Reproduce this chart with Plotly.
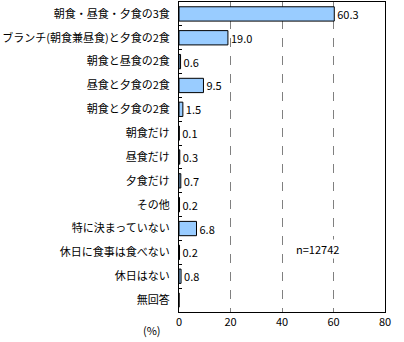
import plotly.graph_objects as go

categories = ["朝食・昼食・夕食の3食", "ブランチ(朝食兼昼食)と夕食の2食", "朝食と昼食の2食",
              "昼食と夕食の2食", "朝食と夕食の2食", "朝食だけ", "昼食だけ", "夕食だけ",
              "その他", "特に決まっていない", "休日に食事は食べない", "休日はない", "無回答"]
values = [60.3, 19.0, 0.6, 9.5, 1.5, 0.1, 0.3, 0.7, 0.2, 6.8, 0.2, 0.8, 0.0]
x_ticks = [0, 20, 40, 60, 80]
sample_note = "n=12742"
unit_label = "(%)"

labels = ["" if v == 0 else f"{v:.1f}" for v in values]
FONT = "Noto Sans CJK JP"

fig = go.Figure(go.Bar(
    x=values, y=categories, orientation="h",
    marker=dict(color="#99CCFF", line=dict(color="black", width=1)),
    width=0.6,
    text=labels, textposition="outside", cliponaxis=False, constraintext="none",
    textfont=dict(family=FONT, size=11, color="black"),
))

fig.update_layout(
    width=404, height=342,
    margin=dict(l=179, r=19, t=2, b=30),
    paper_bgcolor="white", plot_bgcolor="white",
    showlegend=False,
    font=dict(family=FONT, size=11, color="black"),
    xaxis=dict(range=[0, 80], tickvals=x_ticks, showgrid=True,
               gridcolor="#808080", griddash="dash", gridwidth=1,
               showline=True, linecolor="black", linewidth=1, mirror=True,
               ticks="", zeroline=False, tickfont=dict(size=11)),
    yaxis=dict(autorange="reversed", showline=True, linecolor="black",
               linewidth=1, mirror=True, ticks="inside", ticklen=3,
               tickson="boundaries", tickcolor="black", showgrid=False,
               tickfont=dict(size=11), ticklabelstandoff=6),
    annotations=[
        dict(text=sample_note, x=0.67, y=0.203, xref="paper", yref="paper",
             xanchor="center", yanchor="middle", bgcolor="white",
             showarrow=False, font=dict(size=11)),
        dict(text=unit_label, x=-0.13, y=-0.058, xref="paper", yref="paper",
             xanchor="center", showarrow=False, font=dict(size=11), yanchor="middle"),
    ],
)

fig.write_html("out.html")
